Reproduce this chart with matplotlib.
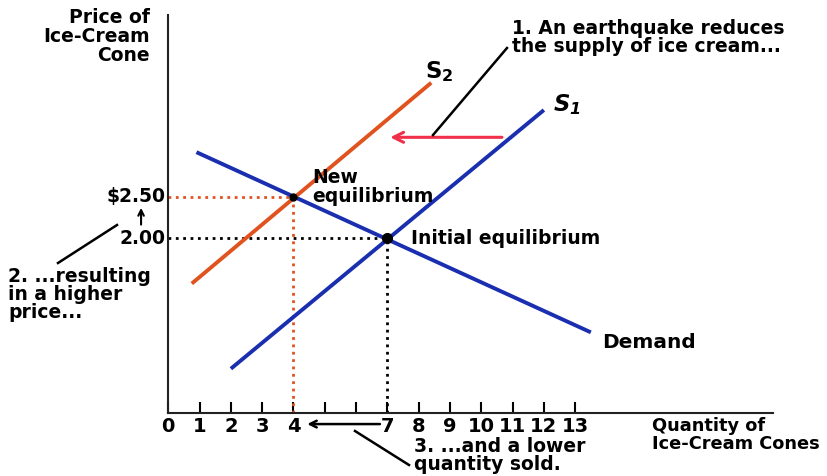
import numpy as np
import matplotlib.pyplot as plt

# curve endpoints (quantity, price)
demand_q = [0.9, 13.5]
demand_p = [3.04, 0.86]
s1_q = [2.0, 12.0]
s1_p = [0.42, 3.55]
s2_q = [0.75, 8.4]
s2_p = [1.45, 3.88]

# equilibria
init_q, init_p = 7, 2.00
new_q, new_p = 4, 2.50

tick_pos = list(range(0, 14))
tick_lab = ['0', '1', '2', '3', '4', '', '', '7', '8', '9', '10', '11', '12', '13']

blue = '#1a2fb0'
orange = '#e0531f'
red = '#f0304a'

plt.rcParams['font.family'] = ['DejaVu Sans']
plt.rcParams['font.weight'] = 'bold'

fig = plt.figure(figsize=(8.27, 4.76), dpi=100)
W, H = 827, 476
ax = fig.add_axes([168.3 / W, (H - 412.5) / H, (773 - 168.3) / W, (412.5 - 15) / H])
ax.set_xlim(0, 19.32)
ax.set_ylim(-0.11, 4.70)

for s in ['top', 'right']:
    ax.spines[s].set_visible(False)
for s in ['left', 'bottom']:
    ax.spines[s].set_linewidth(1.5)
    ax.spines[s].set_color('#222222')

ax.set_xticks(tick_pos, tick_lab)
ax.tick_params(axis='x', direction='in', length=8, width=1.5, pad=3, labelsize=14)
for t in ax.get_xticklabels():
    t.set_fontweight('bold')
ax.set_yticks([])

# dotted guides
ax.plot([0, new_q], [new_p, new_p], ':', color=orange, lw=2)
ax.plot([new_q, new_q], [-0.11, new_p], ':', color=orange, lw=2)
ax.plot([0, init_q], [init_p, init_p], ':', color='black', lw=2)
ax.plot([init_q, init_q], [-0.11, init_p], ':', color='black', lw=2)

# curves
ax.plot(demand_q, demand_p, color=blue, lw=2.8, solid_capstyle='butt')
ax.plot(s1_q, s1_p, color=blue, lw=2.8, solid_capstyle='butt')
ax.plot(s2_q, s2_p, color=orange, lw=2.8, solid_capstyle='butt')

ax.plot([new_q], [new_p], 'o', color='black', ms=5, zorder=5)
ax.plot([init_q], [init_p], 'o', color='black', ms=7, zorder=5)

# shift arrow
ax.annotate('', xy=(7.0, 3.22), xytext=(10.75, 3.22),
            arrowprops=dict(arrowstyle='->', color=red, lw=2.2, mutation_scale=18))

fs = 13.5
ax.text(init_q + 0.75, init_p, 'Initial equilibrium', fontsize=fs, fontweight='bold', va='center')
ax.text(new_q + 0.6, 2.62, 'New\nequilibrium', fontsize=fs, fontweight='bold',
        va='center', linespacing=1.0)
ax.text(13.85, 0.74, 'Demand', fontsize=fs + 1, fontweight='bold', va='center')
ax.text(8.2, 4.02, r'$\mathbf{S_2}$', fontsize=fs + 3, va='center')
ax.text(12.3, 3.62, r'$\mathbfit{S_1}$', fontsize=fs + 3, va='center')

ax.text(-0.08, new_p, '$2.50', fontsize=fs, fontweight='bold', ha='right', va='center')
ax.text(-0.08, init_p, '2.00', fontsize=fs, fontweight='bold', ha='right', va='center')
ax.annotate('', xy=(-0.87, 2.4), xytext=(-0.87, 2.13), annotation_clip=False,
            arrowprops=dict(arrowstyle='->', color='black', lw=1.5, mutation_scale=10))

# labels outside axes in figure pixel coords
def ftext(x, y, s, size=fs, **kw):
    fig.text(x / W, 1 - y / H, s, fontsize=size, fontweight='bold', **kw)

ftext(150, 8, 'Price of\nIce-Cream\nCone', ha='right', va='top', linespacing=1.0)
ftext(652, 417, 'Quantity of\nIce-Cream Cones', size=12.8, ha='left', va='top', linespacing=1.0)
ftext(512, 19, '1. An earthquake reduces\nthe supply of ice cream...', ha='left', va='top', linespacing=0.95)
ftext(8, 267, '2. ...resulting\nin a higher\nprice...', ha='left', va='top', linespacing=0.95)
ftext(414, 437, '3. ...and a lower\nquantity sold.', ha='left', va='top', linespacing=0.95)

# leader lines
def fline(x0, y0, x1, y1):
    fig.add_artist(plt.Line2D([x0 / W, x1 / W], [1 - y0 / H, 1 - y1 / H], color='black', lw=1.8))

fline(433, 135, 507, 48)
fline(58, 263, 117, 225)
fline(355, 431, 409, 465)

# arrow along the tick labels from 7 to 4
ax.annotate('', xy=(4.35, -0.25), xytext=(6.85, -0.25), annotation_clip=False,
            arrowprops=dict(arrowstyle='->', color='black', lw=1.8, mutation_scale=12))

fig.savefig('out.png', dpi=100)
